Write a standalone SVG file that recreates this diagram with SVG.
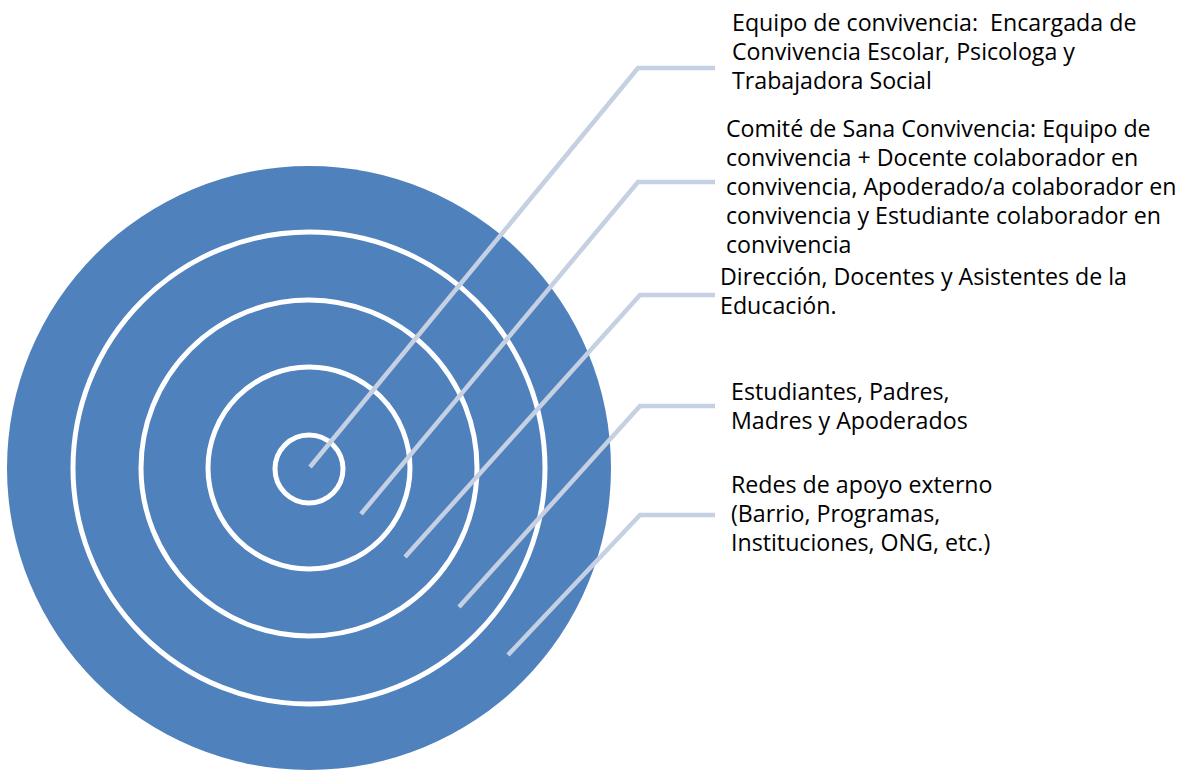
<svg xmlns="http://www.w3.org/2000/svg" width="1192" height="772" viewBox="0 0 1192 772">
<style>
.ring{fill:none;stroke:#FFFFFF;stroke-width:5}
.conn{fill:none;stroke:#C6D0E3;stroke-width:4.5;stroke-linejoin:miter}
.lbl{font-family:"Open Sans","Liberation Sans",Arial,sans-serif;font-size:23.2px;fill:#000000}
</style>
<rect width="1192" height="772" fill="#FFFFFF"/>
<g id="target">
<circle cx="309" cy="468" r="302" fill="#4F81BD"/>
<circle class="ring" cx="309" cy="468" r="236"/>
<circle class="ring" cx="309" cy="468" r="168"/>
<circle class="ring" cx="309" cy="468" r="101"/>
<circle class="ring" cx="309" cy="469" r="34"/>
</g>
<g id="connectors">
<polyline class="conn" points="310,467 638,68 715,68"/>
<polyline class="conn" points="361,514 638,182 715,182"/>
<polyline class="conn" points="405,557 640,295 715,295"/>
<polyline class="conn" points="459,607 640,406 715,406"/>
<polyline class="conn" points="508,655 640,515 715,515"/>
</g>
<g id="label-equipo">
<text class="lbl" x="732" y="31" xml:space="preserve">Equipo de convivencia:  Encargada de</text>
<text class="lbl" x="732" y="60">Convivencia Escolar, Psicologa y</text>
<text class="lbl" x="732" y="89">Trabajadora Social</text>
</g>
<g id="label-comite">
<text class="lbl" x="726" y="137">Comité de Sana Convivencia: Equipo de</text>
<text class="lbl" x="726" y="166">convivencia + Docente colaborador en</text>
<text class="lbl" x="726" y="195">convivencia, Apoderado/a colaborador en</text>
<text class="lbl" x="726" y="224">convivencia y Estudiante colaborador en</text>
<text class="lbl" x="726" y="253">convivencia</text>
</g>
<g id="label-direccion">
<text class="lbl" x="720" y="285">Dirección, Docentes y Asistentes de la</text>
<text class="lbl" x="720" y="314">Educación.</text>
</g>
<g id="label-estudiantes">
<text class="lbl" x="731" y="400">Estudiantes, Padres,</text>
<text class="lbl" x="731" y="429">Madres y Apoderados</text>
</g>
<g id="label-redes">
<text class="lbl" x="731" y="493">Redes de apoyo externo</text>
<text class="lbl" x="731" y="522">(Barrio, Programas,</text>
<text class="lbl" x="731" y="551">Instituciones, ONG, etc.)</text>
</g>
</svg>
